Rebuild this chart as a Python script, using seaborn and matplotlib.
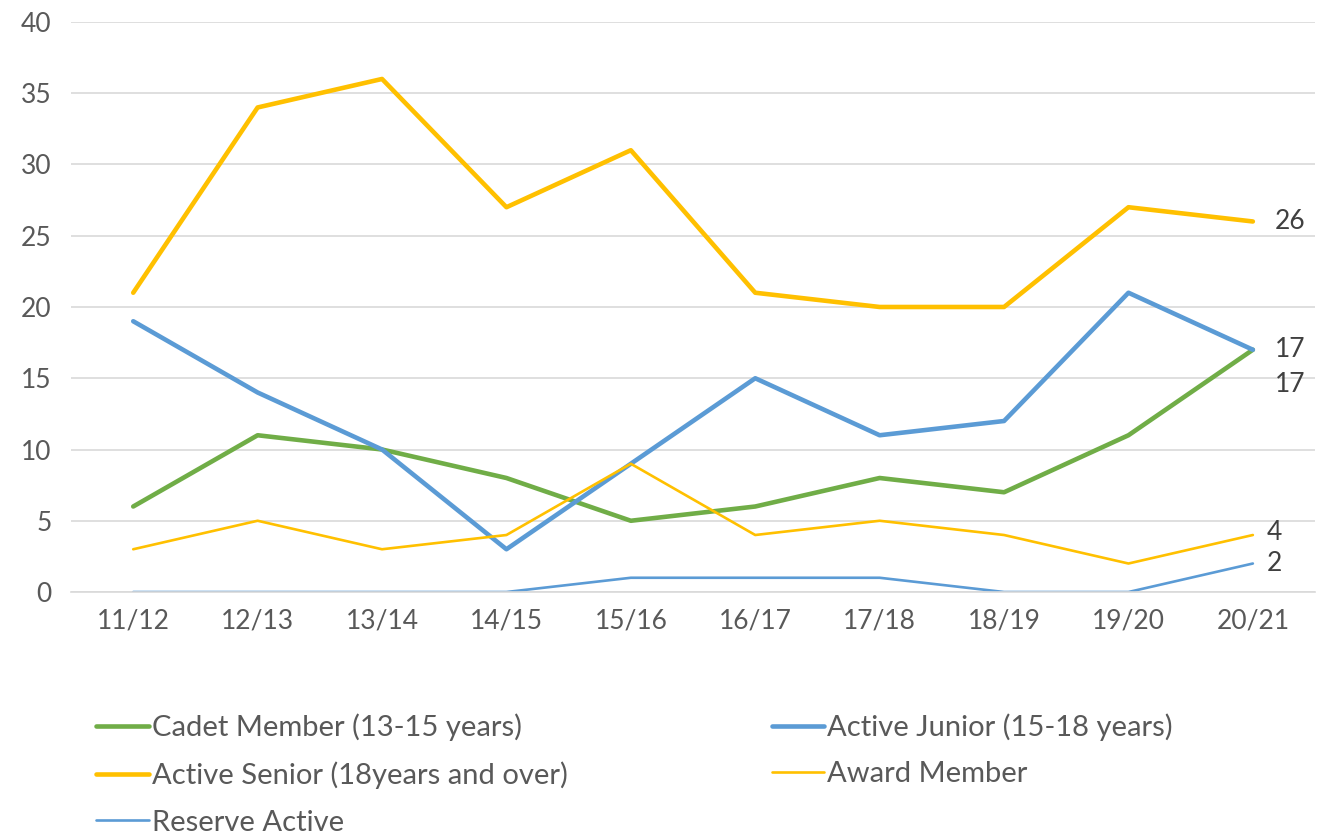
import matplotlib
matplotlib.use("Agg")
import matplotlib.pyplot as plt
import pandas as pd
import seaborn as sns

seasons = ["11/12", "12/13", "13/14", "14/15", "15/16", "16/17", "17/18", "18/19", "19/20", "20/21"]
cadet = [6, 11, 10, 8, 5, 6, 8, 7, 11, 17]
junior = [19, 14, 10, 3, 9, 15, 11, 12, 21, 17]
senior = [21, 34, 36, 27, 31, 21, 20, 20, 27, 26]
award = [3, 5, 3, 4, 9, 4, 5, 4, 2, 4]
reserve = [0, 0, 0, 0, 1, 1, 1, 0, 0, 2]

series_names = [
    "Cadet Member (13-15 years)",
    "Active Junior (15-18 years)",
    "Active Senior (18years and over)",
    "Award Member",
    "Reserve Active",
]
series_values = [cadet, junior, senior, award, reserve]
colors = ["#70AD47", "#5B9BD5", "#FFC000", "#FFC000", "#5B9BD5"]
widths = [3.3, 3.3, 3.3, 1.9, 1.9]

rows = []
for name, vals in zip(series_names, series_values):
    for i, (s, v) in enumerate(zip(seasons, vals)):
        rows.append({"season": s, "x": i, "value": v, "series": name})
df = pd.DataFrame(rows)

sns.set_theme(style="white")
plt.rcParams["font.family"] = ["Lato", "DejaVu Sans"]

fig = plt.figure(figsize=(13.25, 8.35), dpi=100)
ax = fig.add_axes([0.0536, 0.291, 0.9389, 0.6827])

for name, c, lw in zip(series_names, colors, widths):
    sub = df[df.series == name]
    sns.lineplot(data=sub, x="x", y="value", ax=ax, color=c, linewidth=lw,
                 label=name, solid_capstyle="round", solid_joinstyle="round")

ax.set_xlim(-0.5, len(seasons) - 0.5)
ax.set_ylim(0, 40)
ax.set_yticks(range(0, 41, 5))
ax.set_xticks(range(len(seasons)))
ax.set_xticklabels(seasons)
ax.set_xlabel("")
ax.set_ylabel("")
ax.yaxis.grid(True, color="#D9D9D9", linewidth=1.2)
ax.set_axisbelow(True)
for sp in ["top", "right", "left"]:
    ax.spines[sp].set_visible(False)
ax.spines["bottom"].set_color("#D9D9D9")
ax.spines["bottom"].set_linewidth(1.2)
ax.tick_params(axis="both", length=0, labelsize=19, colors="#595959", pad=12)
ax.tick_params(axis="y", pad=14)

# end-of-line data labels
last = len(seasons) - 1
lab = dict(va="center", fontsize=19, color="#404040", textcoords="offset points")
ax.annotate(str(senior[-1]), (last, senior[-1]), xytext=(16, 0), **lab)
ax.annotate(str(junior[-1]), (last, junior[-1]), xytext=(16, 0), **lab)
ax.annotate(str(cadet[-1]), (last, cadet[-1]), xytext=(16, -25), **lab)
ax.annotate(str(award[-1]), (last, award[-1]), xytext=(10, 2), **lab)
ax.annotate(str(reserve[-1]), (last, reserve[-1]), xytext=(10, 0), **lab)

# row-major legend order: matplotlib fills columns first
handles, labels = ax.get_legend_handles_labels()
order = [0, 2, 4, 1, 3]
ax.legend_.remove()
leg = fig.legend([handles[i] for i in order], [labels[i] for i in order],
                 loc="upper left", bbox_to_anchor=(0.053, 0.177),
                 ncol=2, frameon=False, fontsize=21, handlelength=1.8, handletextpad=0.1,
                 columnspacing=7.0, labelspacing=0.7)
for t in leg.get_texts():
    t.set_color("#595959")

fig.savefig("out.png", dpi=100)
